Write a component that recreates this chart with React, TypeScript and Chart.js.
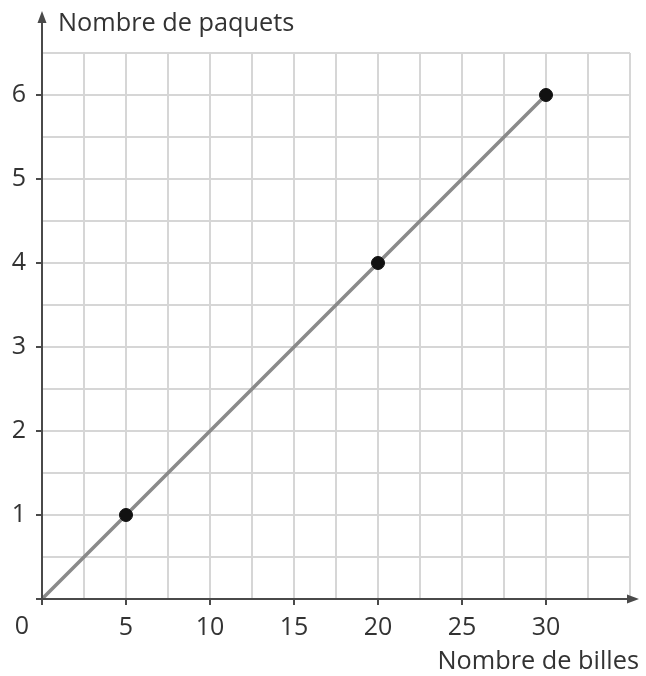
import React, { useEffect, useRef } from "react";
import { Chart, registerables } from "chart.js";

Chart.register(...registerables);

const lineX = [0, 30];
const lineY = [0, 6];
const pointX = [5, 20, 30];
const pointY = [1, 4, 6];
const xTickLabels = [5, 10, 15, 20, 25, 30];
const yTickLabels = [1, 2, 3, 4, 5, 6];
const xTitle = "Nombre de billes";
const yTitle = "Nombre de paquets";
const originLabel = "0";

const FONT = "'Open Sans', 'Noto Sans', sans-serif";
const TEXT = "#333333";
const AXIS = "#4a4a4a";

const axesPlugin = {
  id: "axesPlugin",
  afterDatasetsDraw(chart: any) {
    const { ctx, scales, chartArea } = chart;
    const xs = scales.x;
    const ys = scales.y;
    const ox = xs.getPixelForValue(0);
    const oy = ys.getPixelForValue(0);
    ctx.save();
    ctx.strokeStyle = AXIS;
    ctx.fillStyle = AXIS;
    ctx.lineWidth = 2;
    // x axis
    const xEnd = chartArea.right + 9;
    ctx.beginPath();
    ctx.moveTo(ox, oy);
    ctx.lineTo(xEnd - 6, oy);
    ctx.stroke();
    ctx.beginPath();
    ctx.moveTo(xEnd, oy);
    ctx.lineTo(xEnd - 12, oy - 4.5);
    ctx.lineTo(xEnd - 12, oy + 4.5);
    ctx.closePath();
    ctx.fill();
    // y axis
    const yEnd = 11;
    ctx.beginPath();
    ctx.moveTo(ox, oy);
    ctx.lineTo(ox, yEnd + 6);
    ctx.stroke();
    ctx.beginPath();
    ctx.moveTo(ox, yEnd);
    ctx.lineTo(ox - 4.5, yEnd + 12);
    ctx.lineTo(ox + 4.5, yEnd + 12);
    ctx.closePath();
    ctx.fill();
    // ticks
    [0, ...xTickLabels].forEach((v) => {
      const px = xs.getPixelForValue(v);
      ctx.beginPath();
      ctx.moveTo(px, oy);
      ctx.lineTo(px, oy + 6);
      ctx.stroke();
    });
    [0, ...yTickLabels].forEach((v) => {
      const py = ys.getPixelForValue(v);
      ctx.beginPath();
      ctx.moveTo(ox, py);
      ctx.lineTo(ox - 6, py);
      ctx.stroke();
    });
    // texts
    ctx.fillStyle = TEXT;
    ctx.font = `25px ${FONT}`;
    ctx.textBaseline = "middle";
    ctx.textAlign = "center";
    ctx.fillText(originLabel, ox - 20, oy + 28);
    ctx.font = `25.3px ${FONT}`;
    ctx.textAlign = "left";
    ctx.fillText(yTitle, ox + 16, 24);
    ctx.textAlign = "right";
    ctx.fillText(xTitle, 639, 662);
    ctx.restore();
  },
};

export default function App() {
  const ref = useRef<HTMLCanvasElement | null>(null);
  useEffect(() => {
    document.body.style.margin = "0";
    if (!ref.current) return;
    const chart = new Chart(ref.current, {
      type: "scatter",
      data: {
        datasets: [
          {
            data: lineX.map((x, i) => ({ x, y: lineY[i] })),
            showLine: true,
            borderColor: "#8a8a8a",
            borderWidth: 3.5,
            pointRadius: 0,
            order: 2,
          },
          {
            data: pointX.map((x, i) => ({ x, y: pointY[i] })),
            showLine: false,
            backgroundColor: "#111111",
            borderColor: "#111111",
            pointRadius: 6.5,
            borderWidth: 1,
            order: 1,
          },
        ],
      },
      options: {
        animation: false,
        responsive: false,
        layout: { padding: { top: 53, right: 16, left: 0, bottom: 0 } },
        plugins: { legend: { display: false }, tooltip: { enabled: false } },
        scales: {
          x: {
            type: "linear",
            min: 0,
            max: 35,
            afterFit(s: any) {
              s.height = 77;
            },
            border: { display: false },
            grid: { color: "#d6d6d6", lineWidth: 2, drawTicks: false },
            ticks: {
              stepSize: 2.5,
              autoSkip: false,
              maxRotation: 0,
              padding: 14,
              color: TEXT,
              font: { family: FONT, size: 25 },
              callback: (v: any) =>
                xTickLabels.includes(Number(v)) ? String(v) : "",
            },
          },
          y: {
            type: "linear",
            min: 0,
            max: 6.5,
            afterFit(s: any) {
              s.width = 42;
            },
            border: { display: false },
            grid: { color: "#d6d6d6", lineWidth: 2, drawTicks: false },
            ticks: {
              stepSize: 0.5,
              autoSkip: false,
              padding: 16,
              color: TEXT,
              font: { family: FONT, size: 25 },
              callback: (v: any) =>
                yTickLabels.includes(Number(v)) ? String(v) : "",
            },
          },
        },
      },
      plugins: [axesPlugin],
    });
    return () => chart.destroy();
  }, []);
  return (
    <div style={{ width: 646, height: 676 }}>
      <canvas ref={ref} width={646} height={676} style={{ display: "block" }} />
    </div>
  );
}
